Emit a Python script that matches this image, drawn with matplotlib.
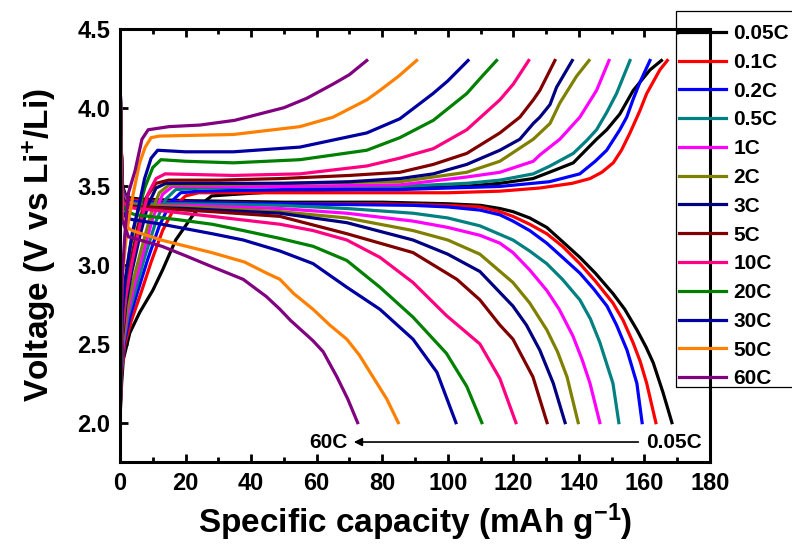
import numpy as np
import matplotlib
matplotlib.use('Agg')
import matplotlib.pyplot as plt
from matplotlib.ticker import MultipleLocator, FormatStrFormatter
from matplotlib.patches import Rectangle

plt.rcParams['font.family'] = ['Liberation Sans', 'DejaVu Sans']
plt.rcParams['font.weight'] = 'bold'
plt.rcParams['axes.labelweight'] = 'bold'
plt.rcParams['mathtext.fontset'] = 'custom'
plt.rcParams['mathtext.rm'] = 'Liberation Sans:bold'
plt.rcParams['mathtext.bf'] = 'Liberation Sans:bold'
plt.rcParams['mathtext.default'] = 'bf'

rates = ['0.05C', '0.1C', '0.2C', '0.5C', '1C', '2C', '3C', '5C',
         '10C', '20C', '30C', '50C', '60C']
colors = ['#000000', '#FF0000', '#0000FF', '#008080', '#FF00FF', '#808000',
          '#000080', '#800000', '#FF0080', '#008000', '#0000A0', '#FF8000',
          '#800080']

# charge curves (capacity mAh/g, voltage V)
chg_005 = [(0, 2.02), (0.5, 2.25), (1, 2.40), (3, 2.57), (6, 2.70), (10, 2.84),
           (13, 2.97), (17, 3.16), (22, 3.31), (25.5, 3.40), (28, 3.44), (35, 3.45),
           (50, 3.47), (70, 3.48), (90, 3.49), (105, 3.50), (115.9, 3.52), (126, 3.55),
           (131, 3.59), (138.3, 3.65), (145.4, 3.80), (148.5, 3.86), (152.5, 3.96),
           (156.6, 4.11), (161.7, 4.24), (165.2, 4.30)]
chg_01 = [(0, 2.0), (0.4, 2.3), (1.5, 2.5), (3.5, 2.65), (6.5, 2.83), (9.5, 3.02),
          (13, 3.22), (17, 3.38), (20, 3.44), (24, 3.46), (40, 3.46), (70, 3.46),
          (100, 3.46), (115.9, 3.47), (128, 3.49), (138, 3.52), (143.4, 3.55),
          (147, 3.59), (150.5, 3.65), (153, 3.73), (155.6, 3.84), (158.6, 3.98),
          (160.7, 4.09), (164.7, 4.24), (167, 4.30)]
chg_02 = [(0, 2.0), (0.3, 2.3), (1.2, 2.5), (3, 2.67), (5.5, 2.84), (8.5, 3.04),
          (12, 3.25), (15.5, 3.40), (18.5, 3.46), (24, 3.47), (50, 3.48), (85, 3.48),
          (115.9, 3.50), (131, 3.53), (140.3, 3.58), (145, 3.66), (148.5, 3.73),
          (152.5, 3.86), (154.6, 3.94), (156.5, 4.05), (158.6, 4.16), (161.7, 4.30)]
chg_05 = [(0, 2.0), (0.3, 2.3), (1, 2.5), (2.5, 2.68), (5, 2.86), (7.5, 3.05),
          (11, 3.28), (14, 3.42), (17, 3.48), (25, 3.49), (50, 3.50), (85, 3.50),
          (105.8, 3.52), (115.9, 3.54), (126.1, 3.58), (131.2, 3.63), (138.3, 3.71),
          (142.3, 3.79), (145.4, 3.86), (148.5, 3.97), (151.5, 4.09), (155.6, 4.30)]
chg_1 = [(0, 2.0), (0.3, 2.3), (0.9, 2.5), (2.2, 2.68), (4.5, 2.88), (7, 3.07),
         (10, 3.30), (13, 3.45), (16, 3.50), (25, 3.50), (50, 3.50), (85.4, 3.51),
         (105.8, 3.56), (115.9, 3.59), (126.1, 3.66), (128.1, 3.70), (134.2, 3.80),
         (140.3, 3.94), (145.4, 4.11), (149.2, 4.30)]
chg_2 = [(0, 2.0), (0.3, 2.3), (0.8, 2.5), (2, 2.7), (4, 2.9), (6.5, 3.1),
         (9.5, 3.33), (12, 3.46), (15, 3.51), (25, 3.51), (50, 3.52), (85.4, 3.53),
         (95.6, 3.56), (105.8, 3.59), (115.9, 3.66), (126.1, 3.80), (131.2, 3.90),
         (134.2, 4.03), (139.3, 4.20), (143.1, 4.30)]
chg_3 = [(0, 2.0), (0.3, 2.3), (0.8, 2.55), (1.8, 2.75), (3.5, 2.95), (6, 3.18),
         (8.5, 3.38), (11, 3.49), (14, 3.52), (30, 3.52), (50, 3.52), (70, 3.53),
         (85.4, 3.55), (95.6, 3.58), (105.8, 3.64), (115.9, 3.73), (122, 3.80),
         (126.1, 3.90), (128.1, 3.94), (131.2, 4.02), (133.2, 4.13), (138, 4.30)]
chg_5 = [(0, 2.0), (0.3, 2.3), (0.7, 2.55), (1.6, 2.78), (3, 3.0), (5.5, 3.25),
         (8, 3.43), (11, 3.52), (14.8, 3.54), (30, 3.54), (48.8, 3.55), (70, 3.57),
         (85.4, 3.59), (95.6, 3.64), (105.8, 3.71), (115.9, 3.84), (122, 3.94),
         (126.1, 4.05), (128.1, 4.11), (132.7, 4.30)]
chg_10 = [(0, 2.0), (0.3, 2.35), (0.8, 2.6), (1.8, 2.8), (3.5, 3.0), (6, 3.25),
          (8.5, 3.45), (11, 3.55), (13.8, 3.58), (34.6, 3.57), (54.9, 3.58),
          (75.3, 3.63), (85.4, 3.68), (95.6, 3.74), (105.8, 3.86), (115.9, 4.05),
          (120, 4.15), (124.7, 4.30)]
chg_20 = [(0, 2.0), (0.3, 2.4), (0.7, 2.65), (1.5, 2.88), (3, 3.1), (4.7, 3.28),
          (7.7, 3.50), (10, 3.62), (12.5, 3.67), (20, 3.66), (34.6, 3.65),
          (54.9, 3.67), (75.3, 3.73), (85.4, 3.81), (95.6, 3.92), (105.8, 4.09),
          (110.5, 4.20), (114.9, 4.30)]
chg_30 = [(0, 2.0), (0.3, 2.45), (0.7, 2.7), (1.6, 2.91), (3.7, 3.20), (5.7, 3.37),
          (7.5, 3.55), (9.5, 3.68), (11.5, 3.73), (20, 3.72), (34.6, 3.72),
          (54.9, 3.75), (75.3, 3.84), (85.4, 3.93), (95.5, 4.09), (100, 4.17),
          (106.2, 4.30)]
chg_50 = [(0, 2.0), (0.2, 2.5), (0.6, 2.9), (2.1, 3.22), (4, 3.45), (6, 3.65),
          (7.7, 3.75), (9.5, 3.81), (12, 3.82), (34.6, 3.83), (54.9, 3.88),
          (65, 3.94), (75.3, 4.05), (79.3, 4.11), (85, 4.20), (90.5, 4.30)]
chg_60 = [(0, 2.0), (0.2, 2.5), (0.6, 2.9), (1.5, 3.2), (2.6, 3.46), (4.6, 3.60),
          (6.7, 3.80), (8.6, 3.86), (15, 3.88), (24.4, 3.89), (35, 3.92),
          (50, 4.00), (57, 4.06), (65, 4.15), (70, 4.21), (75.3, 4.30)]

# discharge curves
dis_005 = [(0, 4.28), (0.3, 3.8), (0.8, 3.5), (2, 3.43), (6, 3.42), (20, 3.41),
           (50, 3.40), (80, 3.40), (100, 3.39), (110, 3.38), (115.9, 3.36),
           (119.9, 3.34), (125, 3.30), (130.2, 3.24), (135, 3.15), (140.3, 3.05),
           (145, 2.95), (150.4, 2.82), (154, 2.72), (157.7, 2.59), (160.5, 2.48),
           (162.7, 2.38), (165.7, 2.19), (168.4, 2.0)]
dis_01 = [(0, 4.28), (0.3, 3.8), (0.8, 3.48), (2, 3.42), (6, 3.41), (20, 3.40),
          (50, 3.39), (80, 3.39), (100, 3.38), (109.8, 3.37), (115.9, 3.34),
          (119.9, 3.31), (125, 3.26), (130.2, 3.20), (135, 3.12), (140.3, 3.01),
          (145, 2.90), (150.4, 2.76), (153.5, 2.65), (156.5, 2.51), (158.7, 2.39),
          (160.7, 2.25), (163.5, 2.0)]
dis_02 = [(0, 4.28), (0.3, 3.8), (0.8, 3.47), (2, 3.41), (6, 3.40), (20, 3.40),
          (50, 3.39), (89.4, 3.38), (100, 3.37), (109.8, 3.35), (115.9, 3.32),
          (119.9, 3.28), (125, 3.22), (130.2, 3.14), (135, 3.05), (140.3, 2.95),
          (144.5, 2.85), (148.6, 2.74), (151.5, 2.62), (154.7, 2.46), (157.7, 2.25),
          (159.3, 2.0)]
dis_05 = [(0, 4.28), (0.3, 3.8), (0.8, 3.46), (2, 3.40), (6, 3.39), (20, 3.39),
          (48.8, 3.38), (69.2, 3.36), (89.4, 3.33), (100, 3.30), (109.8, 3.25),
          (119.9, 3.16), (125, 3.09), (130.2, 3.01), (135, 2.91), (140.3, 2.78),
          (143.5, 2.66), (146.4, 2.51), (150.4, 2.25), (152.2, 2.0)]
dis_1 = [(0, 4.28), (0.3, 3.8), (0.8, 3.45), (2, 3.40), (6, 3.38), (20, 3.38),
         (48.8, 3.36), (69.2, 3.33), (89.4, 3.28), (100, 3.24), (109.8, 3.19),
         (115.9, 3.14), (119.9, 3.08), (125, 2.97), (130.2, 2.84), (134, 2.72),
         (138.2, 2.55), (141, 2.40), (143.4, 2.25), (146.4, 2.0)]
dis_2 = [(0, 4.28), (0.3, 3.8), (0.8, 3.44), (2, 3.39), (6, 3.38), (20, 3.37),
         (48.8, 3.34), (69.2, 3.30), (89.4, 3.22), (100, 3.16), (109.8, 3.07),
         (119.9, 2.89), (125, 2.76), (130.2, 2.59), (133.5, 2.45), (136.4, 2.29),
         (139.8, 2.0)]
dis_3 = [(0, 4.28), (0.3, 3.8), (0.8, 3.43), (2, 3.38), (6, 3.37), (20, 3.36),
         (48.8, 3.33), (69.2, 3.27), (89.4, 3.16), (100, 3.07), (109.8, 2.96),
         (119.9, 2.74), (124, 2.62), (128.1, 2.46), (132.2, 2.25), (135.8, 2.0)]
dis_5 = [(0, 4.28), (0.3, 3.8), (0.8, 3.42), (2, 3.37), (7.7, 3.37), (20, 3.35),
         (28.1, 3.34), (48.8, 3.31), (69.2, 3.20), (89.4, 3.08), (102.8, 2.91),
         (109.8, 2.78), (115.9, 2.62), (119.9, 2.53), (126, 2.29), (130.3, 2.0)]
dis_10 = [(0, 4.28), (0.3, 3.8), (0.8, 3.41), (2, 3.37), (5, 3.36), (15, 3.34),
          (28.1, 3.31), (48.8, 3.26), (58.9, 3.22), (69.2, 3.16), (79.3, 3.05),
          (89.4, 2.89), (99.6, 2.68), (109.8, 2.50), (115.9, 2.28), (120.8, 2.0)]
dis_20 = [(0, 4.28), (0.3, 3.8), (0.8, 3.38), (2, 3.34), (4.7, 3.32), (17.3, 3.29),
          (28.1, 3.26), (37.6, 3.22), (48.8, 3.17), (58.9, 3.12), (69.2, 3.03),
          (79.3, 2.86), (89.4, 2.67), (99.6, 2.44), (105.8, 2.23), (110.4, 2.0)]
dis_30 = [(0, 4.28), (0.3, 3.8), (0.8, 3.34), (2, 3.30), (3.7, 3.29), (12.8, 3.26),
          (28.1, 3.20), (37.6, 3.16), (48.8, 3.09), (58.9, 3.01), (69.2, 2.86),
          (79.3, 2.72), (89.4, 2.53), (96.7, 2.32), (102.5, 2.0)]
dis_50 = [(0, 4.28), (0.3, 3.7), (0.8, 3.3), (1.6, 3.25), (3.7, 3.22), (12.5, 3.16),
          (28, 3.08), (38, 3.02), (44.7, 2.95), (48.8, 2.91), (53, 2.82),
          (58.9, 2.72), (64, 2.62), (69.2, 2.53), (73, 2.43), (77.2, 2.29),
          (81.4, 2.15), (84.9, 2.0)]
dis_60 = [(0, 4.28), (0.2, 3.7), (0.6, 3.29), (2.6, 3.18), (12.8, 3.12), (20, 3.06),
          (28.1, 2.99), (37.6, 2.91), (44.7, 2.80), (48.8, 2.72), (52, 2.65),
          (58.9, 2.52), (62, 2.45), (66.2, 2.29), (69.5, 2.15), (72.5, 2.0)]

charge = [chg_005, chg_01, chg_02, chg_05, chg_1, chg_2, chg_3, chg_5,
          chg_10, chg_20, chg_30, chg_50, chg_60]
discharge = [dis_005, dis_01, dis_02, dis_05, dis_1, dis_2, dis_3, dis_5,
             dis_10, dis_20, dis_30, dis_50, dis_60]

fig = plt.figure(figsize=(7.92, 5.44), dpi=100)
ax = fig.add_axes([0.1515, 0.1507, 0.7449, 0.7960])

for rate, color, chg, dis in zip(rates, colors, charge, discharge):
    c = np.array(chg)
    d = np.array(dis)
    ax.plot(c[:, 0], c[:, 1], color=color, lw=2.3, label=rate,
            solid_joinstyle='round')
    ax.plot(d[:, 0], d[:, 1], color=color, lw=2.3, solid_joinstyle='round')

ax.set_xlim(0, 180)
ax.set_ylim(1.75, 4.5)
ax.xaxis.set_major_locator(MultipleLocator(20))
ax.xaxis.set_minor_locator(MultipleLocator(10))
ax.yaxis.set_major_locator(MultipleLocator(0.5))
ax.yaxis.set_major_formatter(FormatStrFormatter('%.1f'))
ax.tick_params(axis='both', which='major', direction='in', length=6, width=2,
               labelsize=17, top=True, right=False)
ax.tick_params(axis='x', which='major', pad=7)
ax.tick_params(axis='y', which='major', pad=7)
ax.tick_params(axis='x', which='minor', direction='in', length=3.5, width=2, top=True)
for s in ax.spines.values():
    s.set_linewidth(2.2)

ax.set_xlabel('Specific capacity (mAh g$^{-1}$)', fontsize=24, labelpad=5)
ax.set_ylabel('Voltage (V vs Li$^{+}$/Li)', fontsize=24, labelpad=14)

# rate arrow
ax.annotate('', xy=(70.5, 1.877), xytext=(159, 1.877),
            arrowprops=dict(arrowstyle='-|>', color='k', lw=1.2, mutation_scale=12))
ax.text(69.5, 1.877, '60C', ha='right', va='center', fontsize=15)
ax.text(160.5, 1.877, '0.05C', ha='left', va='center', fontsize=15)

# legend with square frame partly outside the figure
leg = fig.legend(loc='upper left', bbox_to_anchor=(679 / 792, 1 - 24 / 544),
                 fontsize=15, frameon=False, borderpad=0,
                 handlelength=2.26, handletextpad=0.34, labelspacing=0.47,
                 borderaxespad=0)
for h in leg.get_lines():
    h.set_linewidth(2.3)
fig.patches.append(Rectangle((676 / 792, 1 - 387 / 544), 130 / 792, 376 / 544,
                             transform=fig.transFigure, fill=False,
                             edgecolor='black', lw=0.9))

fig.savefig('out.png', dpi=100)
